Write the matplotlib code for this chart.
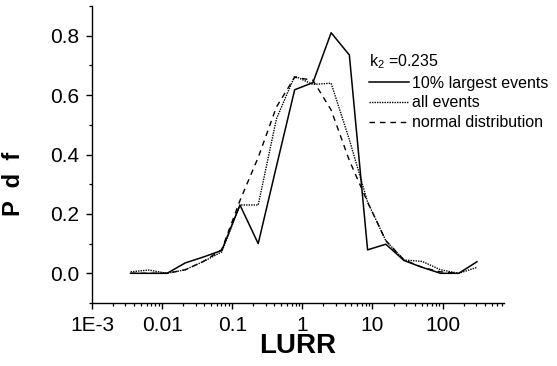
import matplotlib
matplotlib.use("Agg")
import matplotlib.pyplot as plt
from matplotlib.ticker import LogLocator, FixedLocator, FixedFormatter

plt.rcParams['font.family'] = ['Liberation Sans', 'DejaVu Sans']
plt.rcParams['mathtext.fontset'] = 'custom'
plt.rcParams['mathtext.rm'] = 'Liberation Sans'

# LURR bin centres
lurr = [0.00355, 0.00646, 0.01175, 0.02138, 0.0389, 0.0708, 0.1288, 0.2344,
        0.4266, 0.7762, 1.413, 2.570, 4.677, 8.511, 15.49, 28.18, 51.29,
        93.33, 169.8, 309.0]

pdf_largest = [0.0, 0.0, 0.0, 0.035, 0.055, 0.077, 0.23, 0.10, 0.36, 0.618,
               0.642, 0.81, 0.735, 0.079, 0.098, 0.043, 0.02, 0.0, 0.0, 0.039]
pdf_all = [0.005, 0.011, 0.0, 0.012, 0.04, 0.072, 0.23, 0.23, 0.52, 0.664,
           0.636, 0.64, 0.45, 0.24, 0.11, 0.045, 0.04, 0.012, 0.0, 0.02]
pdf_normal = [0.0, 0.0, 0.0, 0.012, 0.04, 0.08, 0.245, 0.39, 0.56, 0.66,
              0.65, 0.55, 0.38, 0.24, 0.11, 0.045, 0.02, 0.005, 0.0]

labels = ["10% largest events", "all events", "normal distribution"]
legend_title = "k$_{\\mathregular{2}}$ =0.235"
xtick_vals = [1e-3, 1e-2, 1e-1, 1, 10, 100]
xtick_labels = ["1E-3", "0.01", "0.1", "1", "10", "100"]
ytick_vals = [0.0, 0.2, 0.4, 0.6, 0.8]
ytick_labels = ["0.0", "0.2", "0.4", "0.6", "0.8"]

fig = plt.figure(figsize=(5.57, 3.66), dpi=100)
ax = fig.add_axes([0.1652, 0.1721, 0.9048 - 0.1652, 0.9836 - 0.1721])

ax.plot(lurr, pdf_largest, color='black', lw=1.1, ls='-', label=labels[0])
ax.plot(lurr, pdf_all, color='black', lw=1.0, ls=(0, (1, 0.8)), label=labels[1])
ax.plot(lurr[:len(pdf_normal)], pdf_normal, color='black', lw=1.0,
        ls=(0, (4.0, 3.5)), label=labels[2])

ax.set_xscale('log')
ax.set_xlim(1e-3, 750)
ax.set_ylim(-0.1, 0.9)

ax.xaxis.set_major_locator(FixedLocator(xtick_vals))
ax.xaxis.set_major_formatter(FixedFormatter(xtick_labels))
ax.xaxis.set_minor_locator(LogLocator(base=10, subs=range(2, 10), numticks=20))
ax.yaxis.set_major_locator(FixedLocator(ytick_vals))
ax.yaxis.set_major_formatter(FixedFormatter(ytick_labels))
ax.yaxis.set_minor_locator(FixedLocator([-0.1, 0.1, 0.3, 0.5, 0.7, 0.9]))

for s in ['top', 'right']:
    ax.spines[s].set_visible(False)
for s in ['left', 'bottom']:
    ax.spines[s].set_linewidth(1.0)

ax.tick_params(which='major', direction='out', length=4, width=1.0,
               labelsize=15, pad=5)
ax.tick_params(which='minor', direction='out', length=2.5, width=0.9)

ax.set_xlabel("LURR", fontsize=20, fontweight='bold')
ax.xaxis.set_label_coords(0.5, -0.10)
ax.set_ylabel("P  d  f", fontsize=17, fontweight='bold')
ax.yaxis.set_label_coords(-0.163, 0.40)

leg = ax.legend(title=legend_title, loc='upper left',
                bbox_to_anchor=(0.672, 0.845), frameon=False, fontsize=11.5,
                title_fontsize=11.5, handlelength=2.5, handletextpad=0.2,
                labelspacing=0.3, borderaxespad=0, borderpad=0,
                alignment='left')

fig.savefig("out.png", dpi=100)
